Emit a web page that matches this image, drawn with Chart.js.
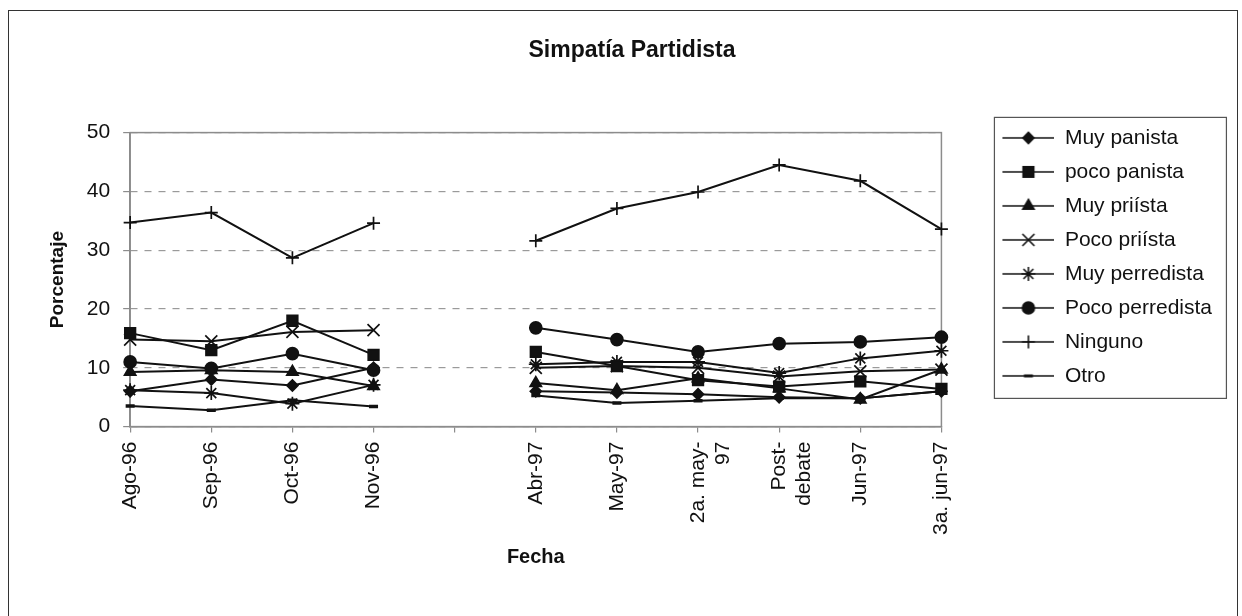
<!DOCTYPE html>
<html lang="es">
<head>
  <meta charset="UTF-8" />
  <title>Simpatía Partidista</title>
  <style>
    * { box-sizing: border-box; }
    html, body { margin: 0; padding: 0; background: #fff; }
    #wrap { position: relative; width: 1242px; height: 616px; overflow: hidden; }
    #frame {
      position: absolute; left: 8px; top: 10px; width: 1230px; height: 700px;
      border: 1.5px solid #333;
    }
    #chartBox { position: absolute; left: 0; top: 0; width: 1242px; height: 616px; }
  </style>
</head>
<body>
  <div id="wrap">
    <div id="frame"></div>
    <div id="chartBox"><canvas id="simpatia"></canvas></div>
  </div>

  <script src="https://cdn.jsdelivr.net/npm/chart.js"></script>
  <script>
    // categorias (la posicion vacia separa 1996 de 1997)
    const fechas = ['Ago-96', 'Sep-96', 'Oct-96', 'Nov-96', '', 'Abr-97', 'May-97',
      ['2a. may-', '97'], ['Post-', 'debate'], 'Jun-97', '3a. jun-97'];

    const muyPanista     = [6.0, 8.0, 7.0, 10.0, null, 6.0, 5.8, 5.5, 5.0, 4.8, 6.0];
    const pocoPanista    = [15.9, 13.0, 18.0, 12.2, null, 12.7, 10.3, 7.9, 6.8, 7.7, 6.4];
    const muyPriista     = [9.3, 9.6, 9.3, 6.9, null, 7.4, 6.2, 8.2, 6.5, 4.6, 9.7];
    const pocoPriista    = [14.8, 14.5, 16.1, 16.4, null, 10.0, 10.3, 10.0, 8.5, 9.4, 9.7];
    const muyPerredista  = [6.2, 5.7, 3.9, 7.1, null, 10.6, 11.0, 11.0, 9.1, 11.6, 12.9];
    const pocoPerredista = [11.0, 9.9, 12.4, 9.6, null, 16.8, 14.8, 12.7, 14.1, 14.4, 15.2];
    const ninguno        = [34.7, 36.4, 28.7, 34.6, null, 31.6, 37.1, 39.9, 44.5, 41.8, 33.6];
    const otro           = [3.5, 2.8, 4.5, 3.4, null, 5.3, 4.0, 4.4, 4.8, 4.8, 6.0];

    const yTicks = [0, 10, 20, 30, 40, 50];

    const FONT = 'Arial, "Liberation Sans", sans-serif';
    const INK = '#111';

    // marcador por serie
    const series = [
      { label: 'Muy panista',     data: muyPanista,     style: 'rectRot',  r: 5.5 },
      { label: 'poco panista',    data: pocoPanista,    style: 'rect',     r: 7.5 },
      { label: 'Muy priísta',     data: muyPriista,     style: 'triangle', r: 6.5 },
      { label: 'Poco priísta',    data: pocoPriista,    style: 'crossRot', r: 8.5 },
      { label: 'Muy perredista',  data: muyPerredista,  style: 'star',     r: 7 },
      { label: 'Poco perredista', data: pocoPerredista, style: 'circle',   r: 6 },
      { label: 'Ninguno',         data: ninguno,        style: 'cross',    r: 6.5 },
      { label: 'Otro',            data: otro,           style: 'line',     r: 4.5 }
    ];

    // muestra de leyenda: linea + marcador, con margen transparente a la izquierda
    function legendSample(style, r) {
      const c = document.createElement('canvas');
      c.width = 100; c.height = 18;
      const g = c.getContext('2d');
      g.strokeStyle = INK; g.fillStyle = INK; g.lineWidth = 1.6;
      g.beginPath(); g.moveTo(48, 9); g.lineTo(100, 9); g.stroke();
      g.lineWidth = style === 'line' ? 3 : 1.6;
      Chart.helpers.drawPoint(g, { pointStyle: style, radius: r, rotation: 0, borderWidth: g.lineWidth }, 74, 9);
      return c;
    }

    const datasets = series.map(s => ({
      label: s.label,
      data: s.data,
      borderColor: INK,
      backgroundColor: INK,
      borderWidth: 2,
      pointStyle: s.style,
      pointRadius: s.r,
      pointBorderWidth: s.style === 'line' ? 3.5 : 1.7,
      pointBackgroundColor: INK,
      pointBorderColor: INK,
      tension: 0,
      spanGaps: false,
      fill: false
    }));

    // marco gris del area de trazado
    const plotFrame = {
      id: 'plotFrame',
      beforeDatasetsDraw(chart) {
        const { ctx, chartArea: a } = chart;
        ctx.save();
        ctx.strokeStyle = '#8c8c8c';
        ctx.lineWidth = 1.5;
        ctx.strokeRect(a.left, a.top, a.right - a.left, a.bottom - a.top);
        ctx.restore();
      }
    };

    // recuadro de la leyenda
    const legendFrame = {
      id: 'legendFrame',
      afterDraw(chart) {
        const hb = chart.legend.legendHitBoxes;
        if (!hb || !hb.length) return;
        const first = hb[0], last = hb[hb.length - 1];
        const x = first.left + 40, y = first.top - 10;
        const h = last.top + last.height - first.top + 22;
        const ctx = chart.ctx;
        ctx.save();
        ctx.strokeStyle = '#555';
        ctx.lineWidth = 1.2;
        ctx.strokeRect(x, y, 232, h);
        ctx.restore();
      }
    };

    new Chart(document.getElementById('simpatia'), {
      type: 'line',
      data: { labels: fechas, datasets: datasets },
      plugins: [plotFrame, legendFrame],
      options: {
        responsive: true,
        maintainAspectRatio: false,
        animation: false,
        layout: { padding: { left: 42, right: 20, top: 0, bottom: 43 } },
        plugins: {
          title: {
            display: true,
            text: 'Simpatía Partidista',
            color: INK,
            font: { family: FONT, size: 23, weight: 'bold' },
            padding: { top: 37, bottom: 68 }
          },
          legend: {
            position: 'right',
            align: 'start',
            title: { display: true, text: '', font: { size: 12 }, padding: { top: 100, bottom: 0 } },
            labels: {
              usePointStyle: true,
              pointStyleWidth: 100,
              padding: 13,
              color: INK,
              font: { family: FONT, size: 21 },
              generateLabels(chart) {
                return series.map((s, i) => ({
                  text: s.label,
                  datasetIndex: i,
                  pointStyle: legendSample(s.style, s.r),
                  fontColor: INK,
                  hidden: false,
                  lineWidth: 0
                }));
              }
            }
          },
          tooltip: { enabled: false }
        },
        scales: {
          x: {
            offset: false,
            grid: { drawOnChartArea: false, drawTicks: true, tickLength: 6, color: '#8c8c8c', lineWidth: 1.2 },
            border: { display: true, color: '#8c8c8c', width: 1.5 },
            ticks: {
              autoSkip: false, maxRotation: 90, minRotation: 90, padding: 9,
              color: INK, font: { family: FONT, size: 21 }
            },
            title: {
              display: true, text: 'Fecha', color: INK,
              font: { family: FONT, size: 20, weight: 'bold' },
              padding: { top: 1, bottom: 4 }
            }
          },
          y: {
            min: 0,
            max: 50,
            afterBuildTicks(scale) { scale.ticks = yTicks.map(v => ({ value: v })); },
            grid: { color: '#9a9a9a', lineWidth: 1.2, tickLength: 7, tickColor: '#8c8c8c', tickBorderDash: [] },
            border: { display: true, color: '#8c8c8c', width: 1.5, dash: [7, 7] },
            ticks: { padding: 13, color: INK, font: { family: FONT, size: 21 } },
            title: {
              display: true, text: 'Porcentaje', color: INK,
              font: { family: FONT, size: 19, weight: 'bold' },
              padding: { top: 4, bottom: 5 }
            }
          }
        }
      }
    });
  </script>
</body>
</html>
